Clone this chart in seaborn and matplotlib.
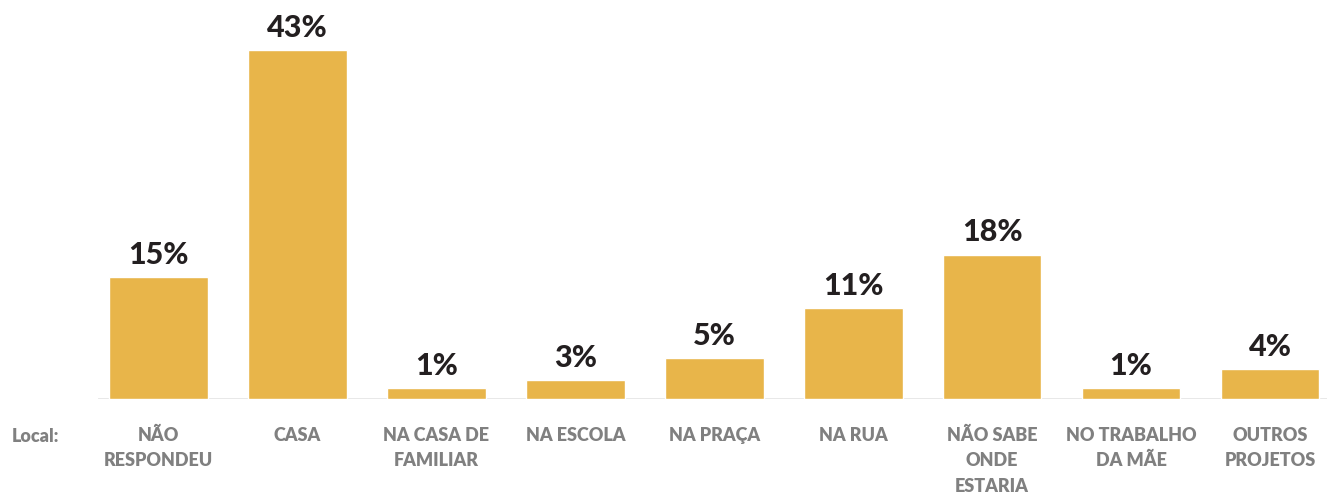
import numpy as np
import pandas as pd
import matplotlib.pyplot as plt
import seaborn as sns

categories = ['NÃO\nRESPONDEU', 'CASA', 'NA CASA DE\nFAMILIAR', 'NA ESCOLA', 'NA PRAÇA',
              'NA RUA', 'NÃO SABE\nONDE\nESTARIA', 'NO TRABALHO\nDA MÃE', 'OUTROS\nPROJETOS']
values = [15.0, 43.0, 1.3, 2.3, 5.0, 11.2, 17.8, 1.3, 3.7]
value_labels = ['15%', '43%', '1%', '3%', '5%', '11%', '18%', '1%', '4%']

df = pd.DataFrame({'local': categories, 'pct': values})

sns.set_style('white')
plt.rcParams['font.family'] = ['Lato', 'DejaVu Sans']

fig = plt.figure(figsize=(13.27, 4.95), dpi=100)
ax = fig.add_axes([98 / 1327, 96 / 495, 1 - 98 / 1327, 349 / 495])

sns.barplot(data=df, x='local', y='pct', color='#e8b54a', saturation=1,
            width=0.71, ax=ax, zorder=3)

ax.set_xlim(-0.435, 8.41)
ax.set_ylim(0, 43)

for i, (v, lab) in enumerate(zip(values, value_labels)):
    ax.annotate(lab, (i, v), xytext=(0, 6), textcoords='offset points',
                ha='center', va='bottom', fontsize=22, fontweight='black',
                color='#231f20', clip_on=False)

ax.axhline(0, color='#e6e6e6', lw=2, zorder=2)
ax.set_xlabel('')
ax.set_ylabel('')
ax.set_yticks([])
ax.tick_params(axis='x', length=0, pad=20)
ax.set_xticks(range(len(categories)))
ax.set_xticklabels(categories, fontsize=13, fontweight='heavy', color='#808080',
                   linespacing=1.6, va='top')
sns.despine(ax=ax, left=True, bottom=True)

fig.text(12 / 1327, 1 - 436 / 495, 'Local:', fontsize=13, fontweight='heavy',
         color='#808080', ha='left', va='center')

fig.savefig('out.png', dpi=100)
